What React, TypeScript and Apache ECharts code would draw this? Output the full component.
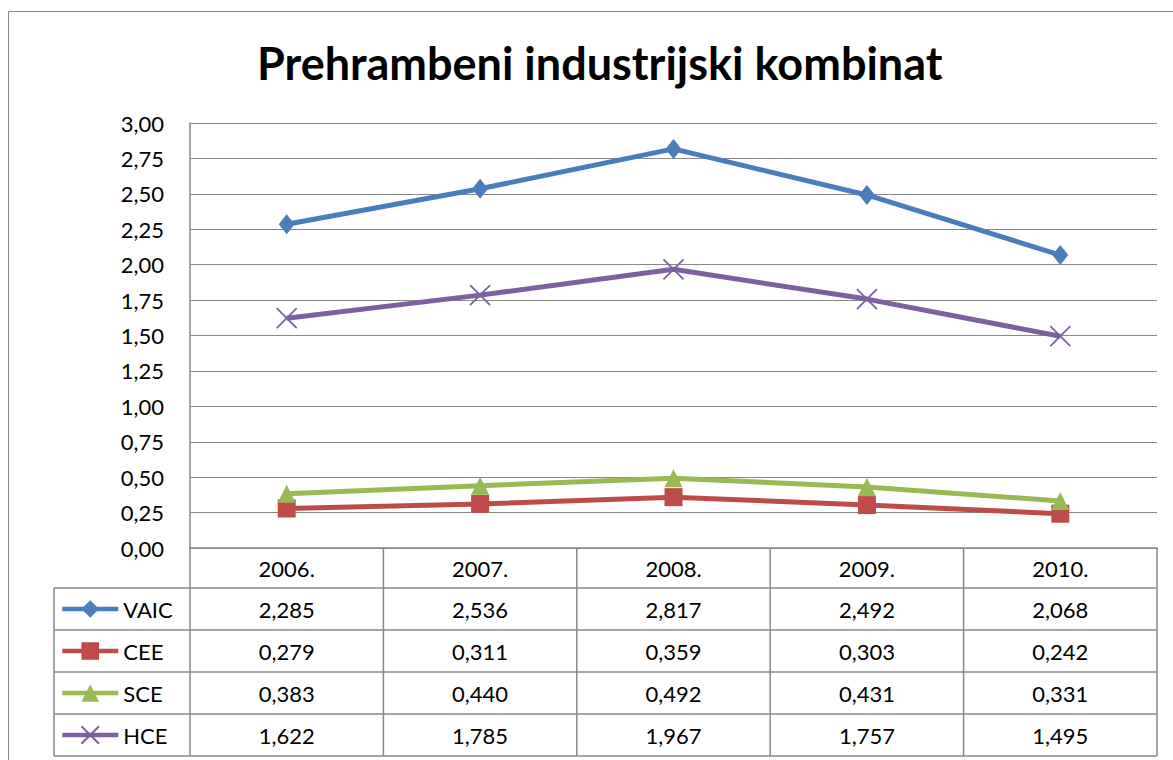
import React, { useEffect, useRef } from "react";
import * as echarts from "echarts";

const title = "Prehrambeni industrijski kombinat";
const years = ["2006.", "2007.", "2008.", "2009.", "2010."];
const seriesNames = ["VAIC", "CEE", "SCE", "HCE"];
const vaic = [2.285, 2.536, 2.817, 2.492, 2.068];
const cee = [0.279, 0.311, 0.359, 0.303, 0.242];
const sce = [0.383, 0.44, 0.492, 0.431, 0.331];
const hce = [1.622, 1.785, 1.967, 1.757, 1.495];
const yTicks = [0, 0.25, 0.5, 0.75, 1, 1.25, 1.5, 1.75, 2, 2.25, 2.5, 2.75, 3];

const colors = ["#4A7EBB", "#BE4B48", "#98B954", "#7D60A0"];
const symbols = ["diamond", "rect", "triangle", "path://M0,0L10,10M10,0L0,10"];
const symbolSizes: any[] = [[16, 20], 18, 18, 20];

const FONT = "Lato, 'Open Sans', sans-serif";
const GRID_L = 190;
const GRID_T = 123;
const GRID_R = 1157;
const GRID_B = 548;
const HEADER_B = 588;
const ROW_H = 42;
const TABLE_L = 54;
const GRAY = "#888888";

export default function App() {
  const ref = useRef<HTMLDivElement>(null);
  useEffect(() => {
    if (!ref.current) return;
    const chart = echarts.init(ref.current, undefined, { renderer: "svg" });
    const allData = [vaic, cee, sce, hce];
    const fmt = (v: number, d: number) => v.toFixed(d).replace(".", ",");

    const n = years.length;
    const colW = (GRID_R - GRID_L) / n;
    const graphics: any[] = [];
    // outer border
    graphics.push({
      type: "rect",
      shape: { x: 8.5, y: 11.5, width: 1200, height: 800 },
      style: { fill: "none", stroke: GRAY, lineWidth: 1 },
      silent: true,
    });
    // horizontal table lines
    for (let r = 0; r <= seriesNames.length; r++) {
      const y = HEADER_B + r * ROW_H;
      graphics.push({
        type: "line",
        shape: { x1: TABLE_L, y1: y, x2: GRID_R, y2: y },
        style: { stroke: GRAY, lineWidth: 1.5 },
        silent: true,
      });
    }
    const tableBottom = HEADER_B + seriesNames.length * ROW_H;
    // vertical lines
    graphics.push({
      type: "line",
      shape: { x1: TABLE_L, y1: HEADER_B, x2: TABLE_L, y2: tableBottom },
      style: { stroke: GRAY, lineWidth: 1.5 },
      silent: true,
    });
    for (let c = 0; c <= n; c++) {
      const x = GRID_L + c * colW;
      graphics.push({
        type: "line",
        shape: { x1: x, y1: GRID_B, x2: x, y2: tableBottom },
        style: { stroke: GRAY, lineWidth: 1.5 },
        silent: true,
      });
    }
    // values
    allData.forEach((arr, r) => {
      arr.forEach((v, c) => {
        graphics.push({
          type: "text",
          x: GRID_L + (c + 0.5) * colW,
          y: HEADER_B + (r + 0.5) * ROW_H,
          style: {
            text: fmt(v, 3),
            fill: "#000",
            font: `22px ${FONT}`,
            align: "center",
            verticalAlign: "middle",
          },
          silent: true,
        });
      });
    });

    chart.setOption({
      animation: false,
      backgroundColor: "#fff",
      title: {
        text: title,
        left: 252,
        top: 35,
        textStyle: { fontFamily: FONT, fontSize: 45, fontWeight: "bold", color: "#000" },
      },
      legend: {
        orient: "vertical",
        left: 60,
        top: HEADER_B + 10,
        padding: 0,
        itemGap: 20,
        itemWidth: 56,
        itemHeight: 22,
        data: seriesNames,
        lineStyle: { width: 4.5 },
        textStyle: { fontFamily: FONT, fontSize: 22, color: "#000", lineHeight: 22 },
      },
      grid: { left: GRID_L, top: GRID_T, right: 1173 - GRID_R, bottom: 760 - GRID_B },
      xAxis: {
        type: "category",
        data: years,
        boundaryGap: true,
        axisLine: { show: true, lineStyle: { color: GRAY, width: 1.5 } },
        axisTick: { show: false },
        axisLabel: {
          margin: 9,
          fontFamily: FONT,
          fontSize: 22,
          color: "#000",
          interval: 0,
        },
      },
      yAxis: {
        type: "value",
        min: 0,
        max: 3,
        interval: 0.25,
        axisLine: { show: true, lineStyle: { color: GRAY, width: 1.5 } },
        axisTick: { show: false },
        splitLine: { show: true, lineStyle: { color: GRAY, width: 1.2 } },
        axisLabel: {
          margin: 26,
          fontFamily: FONT,
          fontSize: 22,
          color: "#000",
          formatter: (v: number) => (yTicks.indexOf(v) >= 0 ? fmt(v, 2) : ""),
        },
      },
      series: seriesNames.map((name, i) => ({
        name,
        type: "line",
        data: allData[i],
        symbol: symbols[i],
        symbolSize: symbolSizes[i],
        lineStyle: { color: colors[i], width: 5 },
        itemStyle:
          i === 3
            ? { color: colors[i], borderColor: colors[i], borderWidth: 1.8 }
            : { color: colors[i], borderWidth: 0 },
        z: i === 0 ? 4 : 3,
      })),
      graphic: graphics,
    });
    return () => chart.dispose();
  }, []);
  return (
    <div style={{ position: "fixed", left: 0, top: 0, width: 1173, height: 760 }}>
      <div ref={ref} style={{ width: 1173, height: 760 }} />
    </div>
  );
}
